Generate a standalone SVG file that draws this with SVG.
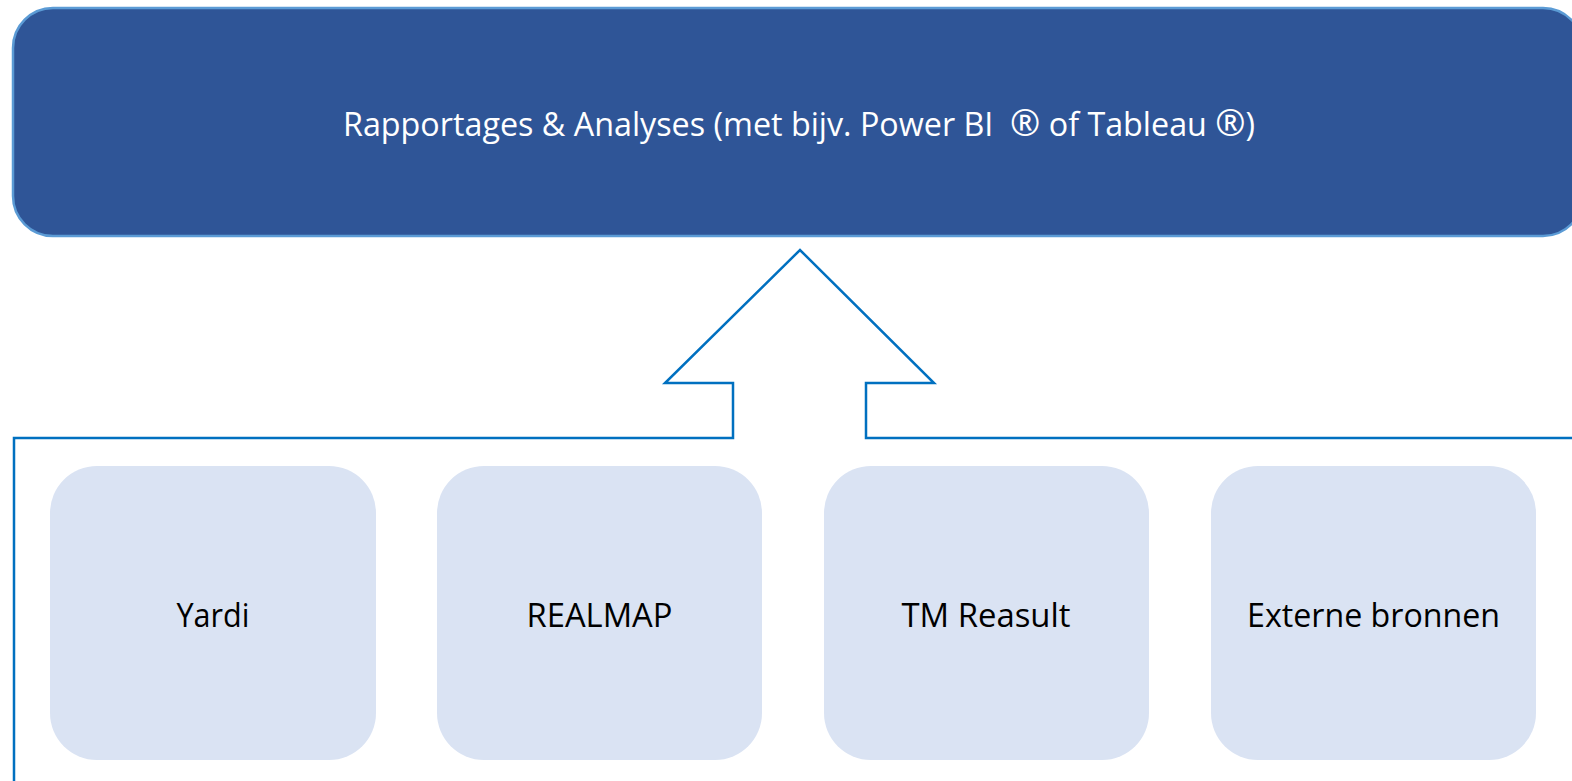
<svg xmlns="http://www.w3.org/2000/svg" width="1572" height="781" viewBox="0 0 1572 781">
<style>
.top{fill:#2F5597;stroke:#5B9BD5;stroke-width:2.5}
.src{fill:#DAE3F3}
.lbl{font-family:"Open Sans","Liberation Sans",sans-serif;font-size:32px;text-anchor:middle}
.reg{font-size:36px}
.lw{fill:#FFFFFF}
.lb{fill:#000000}
.arrow{fill:none;stroke:#0070C0;stroke-width:2.5;stroke-linejoin:miter}
</style>
<g id="rapportages">
<rect class="top" x="13" y="8" width="1570" height="228" rx="40" ry="40"/>
<text class="lbl lw" x="799" y="136" textLength="912" lengthAdjust="spacingAndGlyphs">Rapportages &amp; Analyses (met bijv. Power BI &#160;<tspan class="reg">®</tspan> of Tableau <tspan class="reg">®</tspan>)</text>
</g>
<g id="connectors">
<path class="arrow" d="M14,781 L14,438 L733,438 L733,383 L665,383 L800,250 L934,383 L866,383 L866,438 L1575,438"/>
</g>
<g id="yardi">
<rect class="src" x="50" y="466" width="326" height="294" rx="47" ry="47"/>
<text class="lbl lb" x="213" y="627" textLength="73" lengthAdjust="spacingAndGlyphs">Yardi</text>
</g>
<g id="realmap">
<rect class="src" x="437" y="466" width="325" height="294" rx="47" ry="47"/>
<text class="lbl lb" x="599.5" y="627" textLength="146" lengthAdjust="spacingAndGlyphs">REALMAP</text>
</g>
<g id="tmreasult">
<rect class="src" x="824" y="466" width="325" height="294" rx="47" ry="47"/>
<text class="lbl lb" x="986" y="627" textLength="169" lengthAdjust="spacingAndGlyphs">TM Reasult</text>
</g>
<g id="externe">
<rect class="src" x="1211" y="466" width="325" height="294" rx="47" ry="47"/>
<text class="lbl lb" x="1373.5" y="627" textLength="253" lengthAdjust="spacingAndGlyphs">Externe bronnen</text>
</g>
</svg>
